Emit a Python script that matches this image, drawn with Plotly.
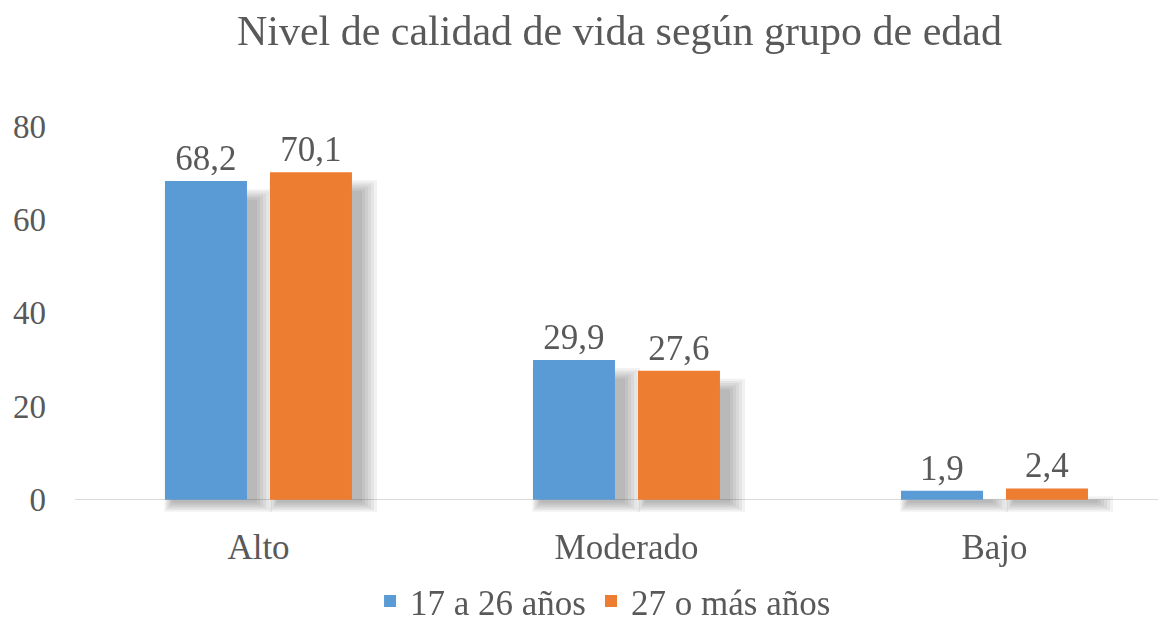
import plotly.graph_objects as go

niveles = ["Alto", "Moderado", "Bajo"]
grupo_joven = [68.2, 29.9, 1.9]
grupo_mayor = [70.1, 27.6, 2.4]
series = ["17 a 26 años", "27 o más años"]
colores = ["#5B9BD5", "#ED7D31"]

serif = "Liberation Serif"
gris = "#595959"

# geometria de barras (unidades de categoria)
ancho = 0.2228
offsets = [-0.2541, 0.0312]
px_x = 1 / 368      # 1 px en x
px_y = 1 / 4.67     # 1 px en y
capas = [2, 5, 8, 11, 14, 17]

fig = go.Figure()

# sombras difusas (varias capas translucidas)
for valores, off in zip([grupo_joven, grupo_mayor], offsets):
    for e in capas:
        base = -(2 + 0.6 * e) * px_y
        tope = [max(v - (20 - 0.7 * e) * px_y, 0) for v in valores]
        fig.add_trace(go.Bar(
            x=niveles,
            y=[t - base for t in tope],
            base=base,
            offset=off + (8 - 0.5 * e) * px_x, width=ancho + 1.5 * e * px_x,
            marker=dict(color="#202020", line_width=0), opacity=0.06,
            showlegend=False, hoverinfo="skip",
        ))

for nombre, valores, color, off in zip(series, [grupo_joven, grupo_mayor], colores, offsets):
    fig.add_trace(go.Bar(
        x=niveles, y=valores, name=nombre,
        offset=off, width=ancho,
        marker=dict(color=color, line_width=0),
        text=valores, texttemplate="%{y:.1f}", textposition="outside",
        textfont=dict(family=serif, size=35, color=gris),
        cliponaxis=False,
    ))

fig.update_layout(
    width=1158, height=614,
    paper_bgcolor="white", plot_bgcolor="white",
    separators=",.",
    barmode="overlay",
    margin=dict(l=67, r=0, t=118, b=99, autoexpand=False),
    title=dict(text="Nivel de calidad de vida según grupo de edad",
               x=0.528, xanchor="center", y=0.963, yanchor="middle",
               font=dict(family=serif, size=42, color=gris)),
    legend=dict(orientation="h", x=0.484, xanchor="center", y=-0.197, yanchor="middle",
                font=dict(family=serif, size=35, color=gris), traceorder="normal"),
    font=dict(family=serif, color=gris),
)
fig.update_xaxes(range=[-0.4986, 2.466], showgrid=False, showline=False, ticks="",
                 tickfont=dict(family=serif, size=35, color=gris),
                 ticklabelstandoff=0)
fig.update_yaxes(range=[-5, 80], tickvals=[0, 20, 40, 60, 80], showgrid=False,
                 zeroline=True, zerolinecolor="#D9D9D9", zerolinewidth=1, showline=False,
                 tickfont=dict(family=serif, size=33, color=gris),
                 ticklabelstandoff=28)

fig.write_html("out.html")
